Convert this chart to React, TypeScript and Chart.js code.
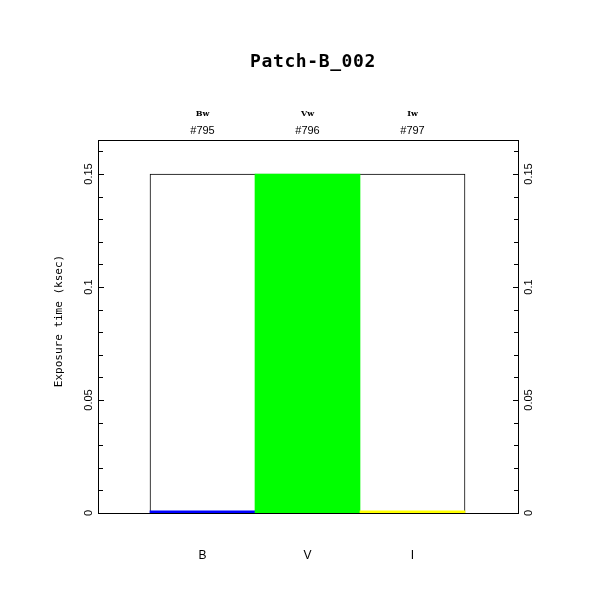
import React, { useEffect, useRef } from 'react';
import { Chart, registerables } from 'chart.js';

Chart.register(...registerables);

const title = 'Patch-B_002';
const yTitle = 'Exposure time (ksec)';
const categories = ['B', 'V', 'I'];
const filterNames = ['Bw', 'Vw', 'Iw'];
const frameIds = ['#795', '#796', '#797'];
const positions = [0, 1, 2];
const exposure = [0.001, 0.15, 0.001];
const frameExposure = [0.15, 0.15, 0.15];
const barColors = ['#0000ff', '#00ff00', '#ffff00'];
const yTickValues = [0, 0.05, 0.1, 0.15];
const yTickLabels = ['0', '0.05', '0.1', '0.15'];
const yMax = 0.16504;
const xMin = -1;
const xMax = 3;

const decorPlugin = {
  id: 'pgplotDecor',
  afterDraw(chart: any) {
    const ctx = chart.ctx as CanvasRenderingContext2D;
    const area = chart.chartArea;
    const xs = chart.scales.x;
    const ys = chart.scales.y;
    const L = Math.round(area.left);
    const R = Math.round(area.right);
    const T = Math.round(area.top);
    const B = Math.round(area.bottom);
    ctx.save();
    ctx.strokeStyle = '#000';
    ctx.fillStyle = '#000';
    ctx.lineWidth = 1;
    // frame
    ctx.strokeRect(L + 0.5, T + 0.5, R - L, B - T);
    // ticks (major every 0.05, minor every 0.01)
    ctx.beginPath();
    for (let k = 1; k * 0.01 <= yMax + 1e-9; k++) {
      const y = Math.round(ys.getPixelForValue(k / 100)) + 0.5;
      const len = k % 5 === 0 ? 6 : 5;
      ctx.moveTo(L, y);
      ctx.lineTo(L + len, y);
      ctx.moveTo(R + 1, y);
      ctx.lineTo(R + 1 - len, y);
    }
    ctx.stroke();

    ctx.textAlign = 'center';
    ctx.textBaseline = 'middle';

    // title
    ctx.font = 'bold 18px "DejaVu Sans Mono"';
    (ctx as any).letterSpacing = '0.6px';
    ctx.fillText(title, 313, 62);
    (ctx as any).letterSpacing = '0px';

    // top and bottom labels
    positions.forEach((p, i) => {
      const x = xs.getPixelForValue(p);
      ctx.font = 'bold 8px "DejaVu Serif"';
      ctx.fillText(filterNames[i], x, 114);
      ctx.font = '11px "Liberation Sans"';
      ctx.fillText(frameIds[i], x, 131);
      ctx.font = '12px "Liberation Sans"';
      ctx.fillText(categories[i], x, 555.5);
    });

    // y tick labels, both sides
    ctx.font = '11px "Liberation Sans"';
    yTickValues.forEach((v, i) => {
      const y = ys.getPixelForValue(v);
      [89, 528.5].forEach((x) => {
        ctx.save();
        ctx.translate(x, y);
        ctx.rotate(-Math.PI / 2);
        ctx.fillText(yTickLabels[i], 0, 0);
        ctx.restore();
      });
    });

    // y axis title
    ctx.font = '11px "DejaVu Sans Mono"';
    ctx.save();
    ctx.translate(59, 321);
    ctx.rotate(-Math.PI / 2);
    ctx.fillText(yTitle, 0, 0);
    ctx.restore();

    ctx.restore();
  },
};

export default function App() {
  const ref = useRef<HTMLCanvasElement | null>(null);
  useEffect(() => {
    if (!ref.current) return;
    const last = positions.length - 1;
    const chart = new Chart(ref.current, {
      type: 'bar',
      data: {
        datasets: [
          {
            label: 'Exposure',
            data: positions.map((x, i) => ({ x, y: exposure[i] })),
            backgroundColor: barColors,
            borderWidth: 0,
            barPercentage: 1,
            categoryPercentage: 1,
            grouped: false,
            order: 1,
          },
          {
            label: 'Frame',
            data: positions.map((x, i) => ({ x, y: frameExposure[i] })),
            backgroundColor: '#ffffff',
            borderColor: '#000000',
            borderSkipped: false,
            borderWidth: (c: any) => ({
              top: 1,
              bottom: 0,
              left: c.dataIndex === 0 ? 1 : 0,
              right: c.dataIndex === last ? 1 : 0,
            }),
            barPercentage: 1,
            categoryPercentage: 1,
            grouped: false,
            order: 2,
          },
        ],
      } as any,
      options: {
        animation: false,
        responsive: false,
        events: [],
        layout: { padding: { left: 97.5, right: 93.5, top: 140, bottom: 98 } },
        plugins: { legend: { display: false }, tooltip: { enabled: false }, title: { display: false } },
        scales: {
          x: { type: 'linear', min: xMin, max: xMax, offset: false, ticks: { stepSize: 1 }, display: false },
          y: { min: 0, max: yMax, display: false },
        },
      } as any,
      plugins: [decorPlugin],
    });
    return () => chart.destroy();
  }, []);
  return (
    <div style={{ position: 'absolute', left: 0, top: 0, width: 611, height: 611, background: '#fff' }}>
      <canvas ref={ref} width={611} height={611} style={{ display: 'block' }} />
    </div>
  );
}
